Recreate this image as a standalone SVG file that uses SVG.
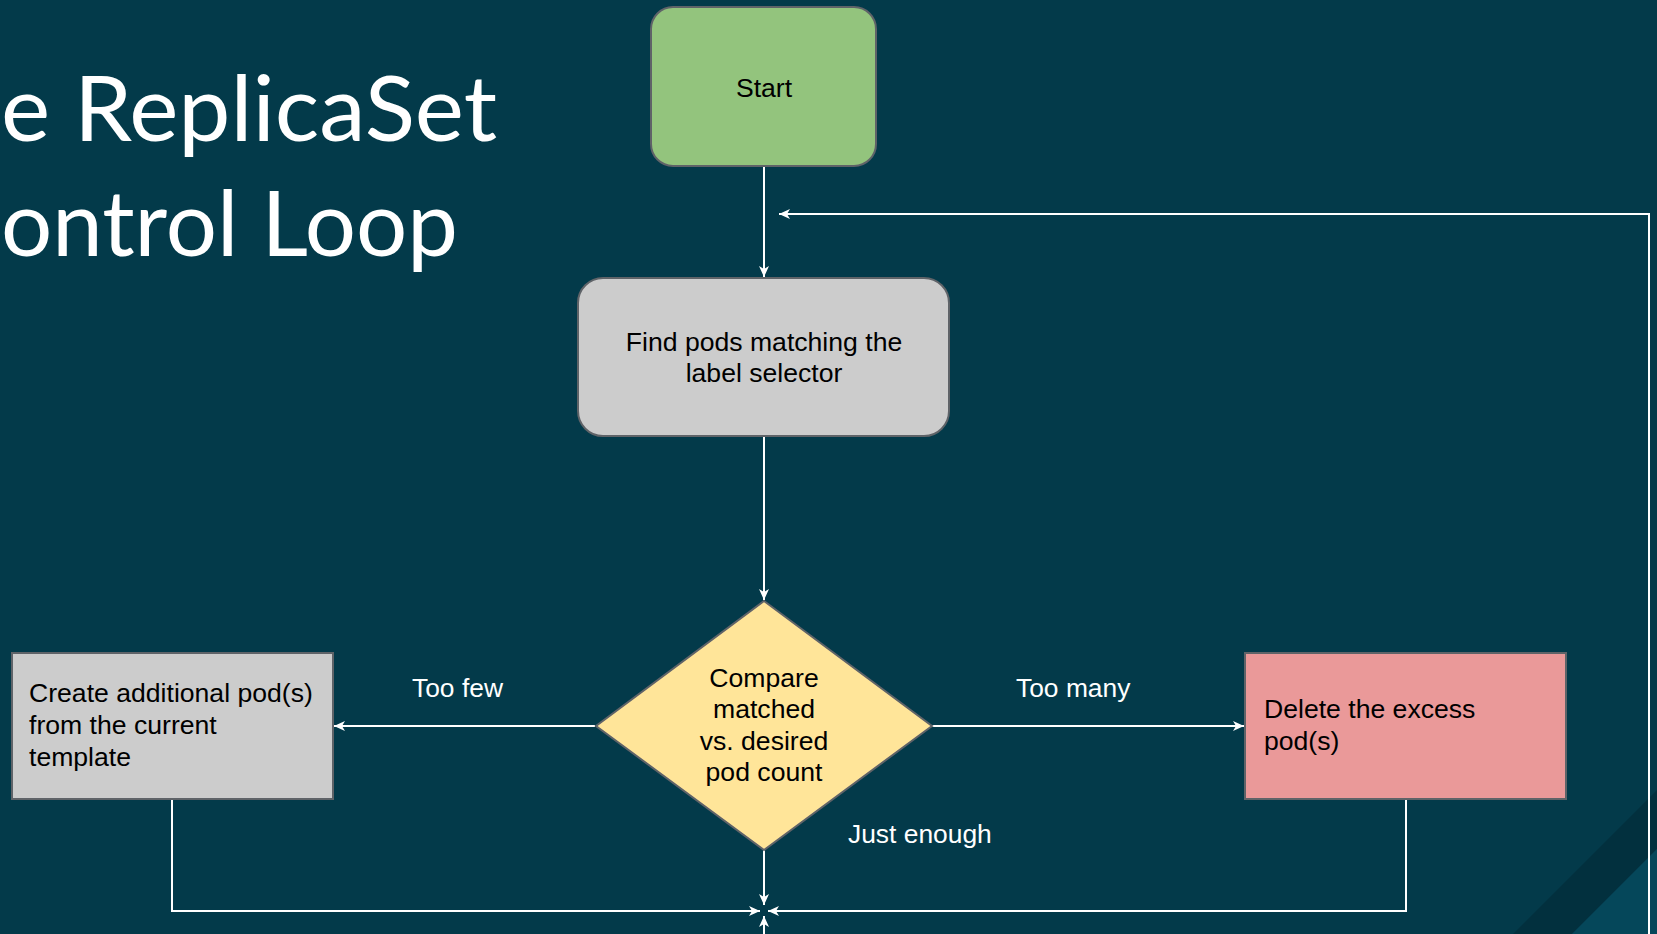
<svg xmlns="http://www.w3.org/2000/svg" width="1657" height="934" viewBox="0 0 1657 934">
  <style>
    .title { font-family: Lato, "Open Sans", sans-serif; font-size: 92px; fill: #ffffff; }
    .node { stroke: #5f6368; stroke-width: 2; }
    .txt { font-family: "Liberation Sans", Arial, sans-serif; font-size: 26.6px; fill: #000000; }
    .lbl { font-family: "Liberation Sans", Arial, sans-serif; font-size: 26.4px; fill: #ffffff; }
    .mid { text-anchor: middle; }
    .edge { fill: none; stroke: #ffffff; stroke-width: 2; }
  </style>
  <defs>
    <marker id="arrow" markerUnits="userSpaceOnUse" markerWidth="14" markerHeight="12" viewBox="0 0 14 12" refX="12" refY="6" orient="auto">
      <path d="M1,1 L12,6 L1,11 L4,6 Z" fill="#ffffff"/>
    </marker>
  </defs>

  <!-- slide background -->
  <rect x="0" y="0" width="1657" height="934" fill="#033a4a"/>
  <polygon points="1513,934 1657,790 1657,849 1572,934" fill="#02303e"/>
  <polygon points="1572,934 1657,849 1657,934" fill="#05475a"/>

  <!-- slide title -->
  <g id="title">
    <text class="title" x="1" y="141" textLength="496" lengthAdjust="spacingAndGlyphs">e ReplicaSet</text>
    <text class="title" x="1" y="256" textLength="457" lengthAdjust="spacingAndGlyphs">ontrol Loop</text>
  </g>

  <!-- connectors -->
  <g id="connectors">
    <path class="edge" d="M764,166 L764,277" marker-end="url(#arrow)"/>
    <path class="edge" d="M1649,934 L1649,214 L779,214" marker-end="url(#arrow)"/>
    <path class="edge" d="M764,436 L764,600" marker-end="url(#arrow)"/>
    <path class="edge" d="M595,726 L334,726" marker-end="url(#arrow)"/>
    <path class="edge" d="M932,726 L1244,726" marker-end="url(#arrow)"/>
    <path class="edge" d="M764,850 L764,905" marker-end="url(#arrow)"/>
    <path class="edge" d="M172,799 L172,911 L760,911" marker-end="url(#arrow)"/>
    <path class="edge" d="M1406,799 L1406,911 L768,911" marker-end="url(#arrow)"/>
    <path class="edge" d="M764,934 L764,916" marker-end="url(#arrow)"/>
    <text class="lbl" x="412" y="697">Too few</text>
    <text class="lbl" x="1016" y="697">Too many</text>
    <text class="lbl" x="848" y="843">Just enough</text>
  </g>

  <g id="start">
    <rect class="node" x="651" y="7" width="225" height="159" rx="22" fill="#93c47d"/>
    <text class="txt mid" x="764" y="97">Start</text>
  </g>

  <g id="find-pods">
    <rect class="node" x="578" y="278" width="371" height="158" rx="25" fill="#cccccc"/>
    <text class="txt mid" x="764" y="351">Find pods matching the</text>
    <text class="txt mid" x="764" y="382">label selector</text>
  </g>

  <g id="compare">
    <polygon class="node" points="764,601 932,726 764,850 596,726" fill="#ffe599"/>
    <text class="txt mid" x="764" y="687">Compare</text>
    <text class="txt mid" x="764" y="718">matched</text>
    <text class="txt mid" x="764" y="750">vs. desired</text>
    <text class="txt mid" x="764" y="781">pod count</text>
  </g>

  <g id="create-pods">
    <rect class="node" x="12" y="653" width="321" height="146" fill="#cccccc"/>
    <text class="txt" x="29" y="702">Create additional pod(s)</text>
    <text class="txt" x="29" y="734">from the current</text>
    <text class="txt" x="29" y="766">template</text>
  </g>

  <g id="delete-pods">
    <rect class="node" x="1245" y="653" width="321" height="146" fill="#ea9999"/>
    <text class="txt" x="1264" y="718">Delete the excess</text>
    <text class="txt" x="1264" y="750">pod(s)</text>
  </g>
</svg>
